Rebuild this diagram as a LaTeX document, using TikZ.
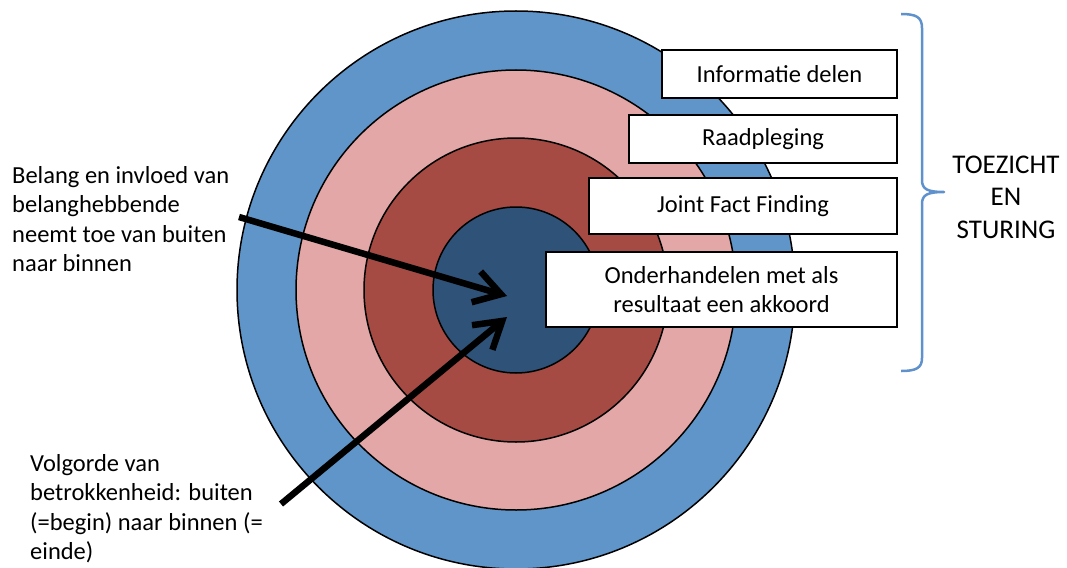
\documentclass[tikz,border=0pt]{standalone}
\usepackage{fontspec}
\setmainfont{Carlito}
\usepackage{xcolor}
\usetikzlibrary{arrows.meta}
\definecolor{ringblue}{RGB}{95,149,200}
\definecolor{ringpink}{RGB}{226,167,166}
\definecolor{ringred}{RGB}{166,74,68}
\definecolor{ringnavy}{RGB}{47,82,120}
\definecolor{bracecol}{RGB}{95,145,205}

\begin{document}
\begin{tikzpicture}[x=1pt,y=-1pt,
  ring/.style={circle, draw=black, line width=1.5pt, inner sep=0pt},
  stage/.style={draw=black, fill=white, line width=1.5pt, inner sep=0pt, align=center, font=\fontsize{24.5}{29.5}\selectfont},
  note/.style={anchor=north west, align=left, inner sep=0pt, font=\fontsize{24.5}{29.5}\selectfont},
  bigarrow/.style={line width=6.5pt, -{Straight Barb[length=26pt,width=32pt]}}]
\useasboundingbox (0,0) rectangle (1067,567);
\clip (0,0) rectangle (1067,567);
% Rings
\node[ring, fill=ringblue, minimum size=558pt] (r1) at (516,290) {};
\node[ring, fill=ringpink, minimum size=440pt] (r2) at (516,290) {};
\node[ring, fill=ringred, minimum size=304pt] (r3) at (516,290) {};
\node[ring, fill=ringnavy, minimum size=166pt] (r4) at (516,290) {};
% Stages
\node[stage, minimum width=235pt, minimum height=48pt] (info) at (779.5,74) {Informatie delen};
\node[stage, minimum width=268pt, minimum height=48pt] (raad) at (763,139) {Raadpleging};
\node[stage, minimum width=308pt, minimum height=56pt] (jff) at (743,206) {Joint Fact Finding};
\node[stage, minimum width=351pt, minimum height=75pt] (onder) at (721.5,289.5) {Onderhandelen met als\\resultaat een akkoord};
% Notes
\node[note] (belang) at (12,166) {Belang en invloed van\\belanghebbende\\neemt toe van buiten\\naar binnen};
\node[note] (volg) at (30,454) {Volgorde van\\betrokkenheid: buiten\\(=begin) naar binnen (=\\einde)};
% Arrows
\coordinate (s1) at (239,217);
\coordinate (t1) at (507,296);
\coordinate (s2) at (281,504);
\coordinate (t2) at (507,317);
\draw[bigarrow] (s1) -- (t1);
\draw[bigarrow] (s2) -- (t2);
% Brace
\coordinate (bt) at (901,14);
\coordinate (bm) at (944,192);
\coordinate (bb) at (901,371);
\draw[bracecol, line width=2.5pt, line join=round] (bt) .. controls (916,14) and (922,17) .. (922,28)
  -- (922,180) .. controls (922,189) and (927,192) .. (bm)
  .. controls (927,192) and (922,195) .. (922,204)
  -- (922,358) .. controls (922,368) and (916,371) .. (bb);
\node[align=center, font=\fontsize{27}{32.5}\selectfont] (toez) at (1006,197) {TOEZICHT\\EN\\STURING};
\end{tikzpicture}
\end{document}
